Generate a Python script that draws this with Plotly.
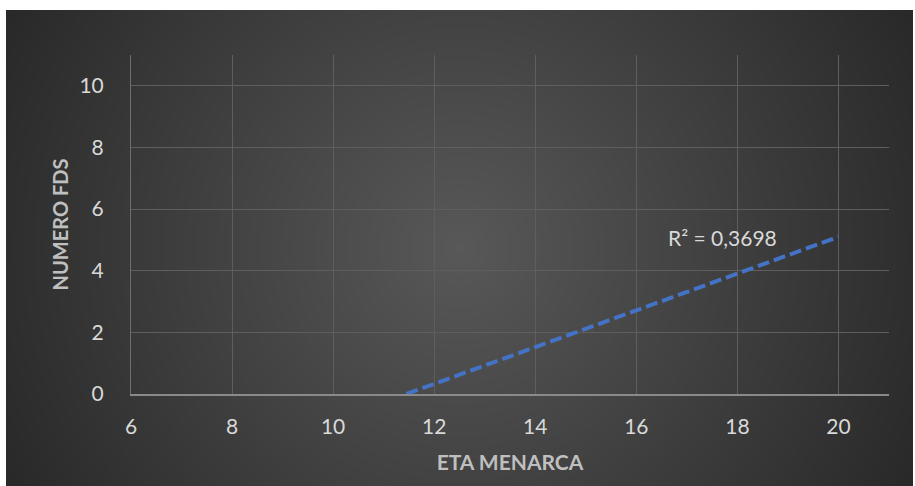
import base64
import struct
import zlib

import numpy as np
import plotly.graph_objects as go

# Linear trendline of NUMERO FDS against ETA MENARCA (endpoints of the fitted line)
trend_x = [11.45, 20.0]
trend_y = [0.0, 5.1]
r2_label = "R² = 0,3698"

x_ticks = [6, 8, 10, 12, 14, 16, 18, 20]
y_ticks = [0, 2, 4, 6, 8, 10]

W, H = 915, 486
# plot area in pixels
L, R, T, B = 131, 889, 55, 394
# dark chart card
CX0, CX1, CY0, CY1 = 6, 913, 10, 486


def radial_png(w, h, c_in, c_out, cx, cy, rad):
    yy, xx = np.mgrid[0:h, 0:w].astype(float)
    d = np.sqrt((xx - cx) ** 2 + (yy - cy) ** 2) / rad
    t = np.clip(d, 0, 1)[..., None]
    img = (np.array(c_in) * (1 - t) + np.array(c_out) * t).round().astype(np.uint8)
    raw = b"".join(b"\x00" + img[i].tobytes() for i in range(h))

    def chunk(tag, data):
        c = struct.pack(">I", len(data)) + tag + data
        return c + struct.pack(">I", zlib.crc32(tag + data) & 0xFFFFFFFF)

    png = b"\x89PNG\r\n\x1a\n"
    png += chunk(b"IHDR", struct.pack(">IIBBBBB", w, h, 8, 2, 0, 0, 0))
    png += chunk(b"IDAT", zlib.compress(raw, 9))
    png += chunk(b"IEND", b"")
    return "data:image/png;base64," + base64.b64encode(png).decode()


cw, ch = CX1 - CX0, CY1 - CY0
bg = radial_png(cw, ch, (88, 88, 88), (36, 36, 36), cw * 0.5, ch * 0.5, 560)

pw, ph = R - L, B - T

fig = go.Figure()
fig.add_trace(
    go.Scatter(
        x=trend_x,
        y=trend_y,
        mode="lines",
        line=dict(color="#4472C4", width=4, dash="12px,5px"),
        hoverinfo="skip",
        showlegend=False,
    )
)

fig.add_annotation(
    x=17.7,
    y=5.08,
    xref="x",
    yref="y",
    text=r2_label,
    showarrow=False,
    font=dict(family="Lato", size=21, color="#d9d9d9"),
)

fig.add_layout_image(
    dict(
        source=bg,
        xref="paper",
        yref="paper",
        x=(CX0 - L) / pw,
        y=(B - CY0) / ph,
        sizex=cw / pw,
        sizey=ch / ph,
        xanchor="left",
        yanchor="top",
        sizing="stretch",
        layer="below",
    )
)

grid = "#5e5e5e"
fig.update_layout(
    width=W,
    height=H,
    margin=dict(l=L, r=W - R, t=T, b=H - B),
    paper_bgcolor="white",
    plot_bgcolor="rgba(0,0,0,0)",
    font=dict(family="Lato", color="#d9d9d9", size=21),
    xaxis=dict(
        range=[6, 21],
        tickvals=x_ticks,
        showgrid=True,
        gridcolor=grid,
        gridwidth=1,
        zeroline=False,
        showline=True,
        linecolor="#8a8a8a",
        linewidth=2,
        ticks="",
        ticklabelstandoff=13,
        tickfont=dict(size=21, color="#d9d9d9"),
        title=dict(
            text="<b>ETA MENARCA</b>",
            font=dict(size=21, color="#bfbfbf"),
            standoff=18,
        ),
    ),
    yaxis=dict(
        range=[0, 11],
        tickvals=y_ticks,
        showgrid=True,
        gridcolor=grid,
        gridwidth=1,
        zeroline=False,
        showline=True,
        linecolor="#6e6e6e",
        linewidth=1,
        ticks="",
        ticklabelstandoff=22,
        tickfont=dict(size=21, color="#d9d9d9"),
        title=dict(
            text="<b>NUMERO FDS</b>",
            font=dict(size=20, color="#bfbfbf"),
            standoff=5,
        ),
    ),
)

fig.write_html("out.html")
